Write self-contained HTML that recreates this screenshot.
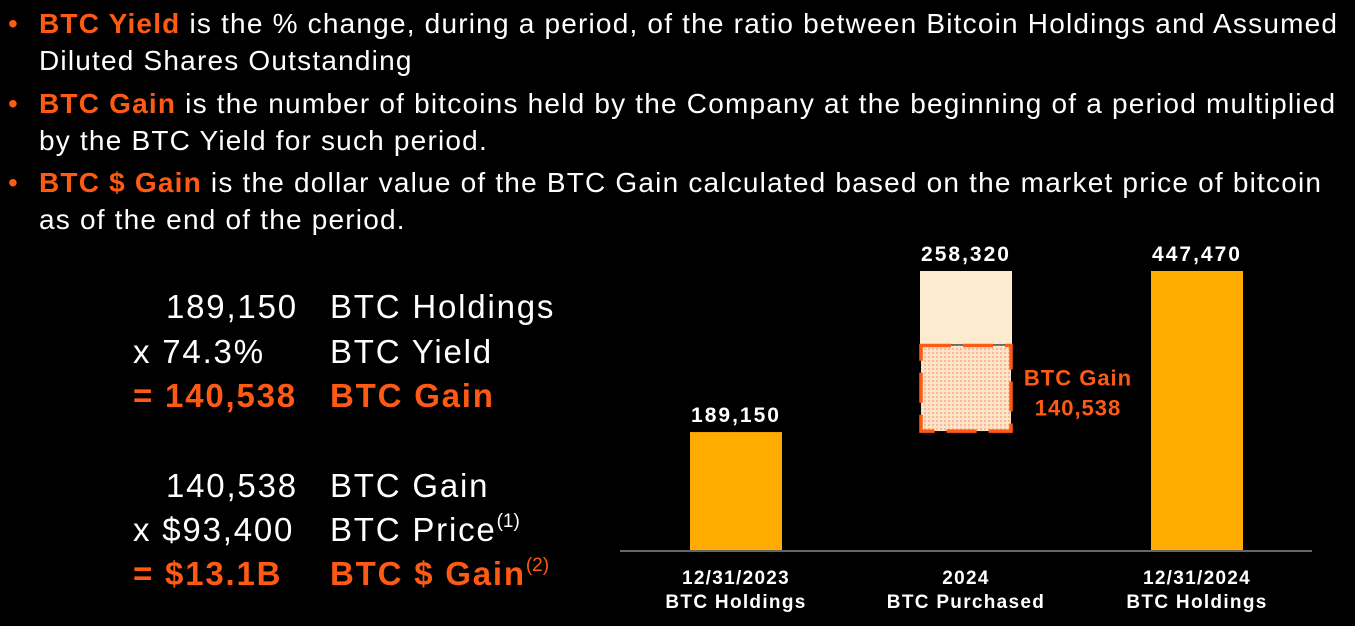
<!DOCTYPE html>
<html><head><meta charset="utf-8"><style>
body{margin:0;width:1355px;height:626px;background:#000;overflow:hidden;font-family:"Liberation Sans",Arial,sans-serif;color:#fff;position:relative}
.b{position:absolute;left:0;font-size:28px;letter-spacing:1.2px;line-height:37px;white-space:nowrap}
.o{color:#ff5a14;font-weight:bold}
.dot{position:absolute;left:8px;color:#ff5a14}
.t{padding-left:39px}
.r{position:absolute;font-size:33px;letter-spacing:1.8px;white-space:nowrap;line-height:40px}
sup{font-size:19px;vertical-align:14px;line-height:0;letter-spacing:0}
</style></head><body>
<div class="b" style="top:5px"><span class="dot">•</span><div class="t"><span class="o">BTC Yield</span> is the % change, during a period, of the ratio between Bitcoin Holdings and Assumed<br>Diluted Shares Outstanding</div></div>
<div class="b" style="top:85px"><span class="dot">•</span><div class="t"><span class="o">BTC Gain</span> is the number of bitcoins held by the Company at the beginning of a period multiplied<br>by the BTC Yield for such period.</div></div>
<div class="b" style="top:164px"><span class="dot">•</span><div class="t"><span class="o">BTC $ Gain</span> is the dollar value of the BTC Gain calculated based on the market price of bitcoin<br>as of the end of the period.</div></div>

<div>
<div class="r" style="left:166px;top:287px">189,150</div><div class="r" style="left:330px;top:287px">BTC Holdings</div>
<div class="r" style="left:133px;top:332px">x 74.3%</div><div class="r" style="left:330px;top:332px">BTC Yield</div>
<div class="r o" style="left:133px;top:376px">= 140,538</div><div class="r o" style="left:330px;top:376px">BTC Gain</div>
<div class="r" style="left:166px;top:466px">140,538</div><div class="r" style="left:330px;top:466px">BTC Gain</div>
<div class="r" style="left:133px;top:510px">x $93,400</div><div class="r" style="left:330px;top:510px">BTC Price<sup>(1)</sup></div>
<div class="r o" style="left:133px;top:554px">= $13.1B</div><div class="r o" style="left:330px;top:554px">BTC $ Gain<sup style="font-weight:normal">(2)</sup></div>
</div>

<svg id="chart" width="1355" height="626" style="position:absolute;left:0;top:0">
<defs><pattern id="dots" width="4" height="4" patternUnits="userSpaceOnUse"><rect width="4" height="4" fill="#fde3cc"/><rect width="2" height="2" fill="#f9b98a"/></pattern></defs>
</svg>
<script>
const categories=["12/31/2023|BTC Holdings","2024|BTC Purchased","12/31/2024|BTC Holdings"];
const startHoldings=[189150];
const purchased=[258320];
const gain=[140538];
const endHoldings=[447470];
const valueLabels=["189,150","258,320","447,470"];
const gainLabel=["BTC Gain","140,538"];
const svg=document.getElementById('chart');const NS='http://www.w3.org/2000/svg';
const base=550,maxV=447470,hPx=279;
const y=v=>base-v/maxV*hPx;
const xs=[690,920,1151],bw=92;
function el(t,a,p){const e=document.createElementNS(NS,t);for(const k in a)e.setAttribute(k,a[k]);(p||svg).appendChild(e);return e;}
let ax=el('line',{x1:620,x2:1312,y1:base+1,y2:base+1,stroke:'#888','stroke-width':1.5});

let b1=el('rect',{x:xs[0],y:y(startHoldings[0]),width:bw,height:base-y(startHoldings[0]),fill:'#ffab00'});

const s0=startHoldings[0],top2=s0+purchased[0],gTop=s0+gain[0];
let b2=el('rect',{x:xs[1],y:y(top2),width:bw,height:y(gTop)-y(top2),fill:'#fdebd0'});

let b2g=el('rect',{x:xs[1]+1,y:y(gTop)+1,width:bw-2,height:y(s0)-y(gTop)-2,fill:'url(#dots)',stroke:'#ff5a14','stroke-width':3.5,'stroke-dasharray':'30,12'});

let b3=el('rect',{x:xs[2],y:y(endHoldings[0]),width:bw,height:base-y(endHoldings[0]),fill:'#ffab00'});

const tops=[s0,top2,endHoldings[0]];
tops.forEach((v,i)=>{let t=el('text',{x:xs[i]+bw/2,y:y(v)-10,'text-anchor':'middle',fill:'#fff','font-size':21,'letter-spacing':2,'font-weight':'bold','font-family':'Liberation Sans'});t.textContent=valueLabels[i];
});
gainLabel.forEach((s,i)=>{let t=el('text',{x:1078,y:(y(gTop)+y(s0))/2-3+i*30,'text-anchor':'middle',fill:'#ff5a14','font-size':22,'letter-spacing':1,'font-weight':'bold','font-family':'Liberation Sans'});t.textContent=s;
});
categories.forEach((c,i)=>{c.split('|').forEach((s,j)=>{let t=el('text',{x:xs[i]+bw/2,y:584+j*24,'text-anchor':'middle',fill:'#fff','font-size':19,'letter-spacing':1.3,'font-weight':'bold','font-family':'Liberation Sans'});t.textContent=s;
});});
</script>
</body></html>
